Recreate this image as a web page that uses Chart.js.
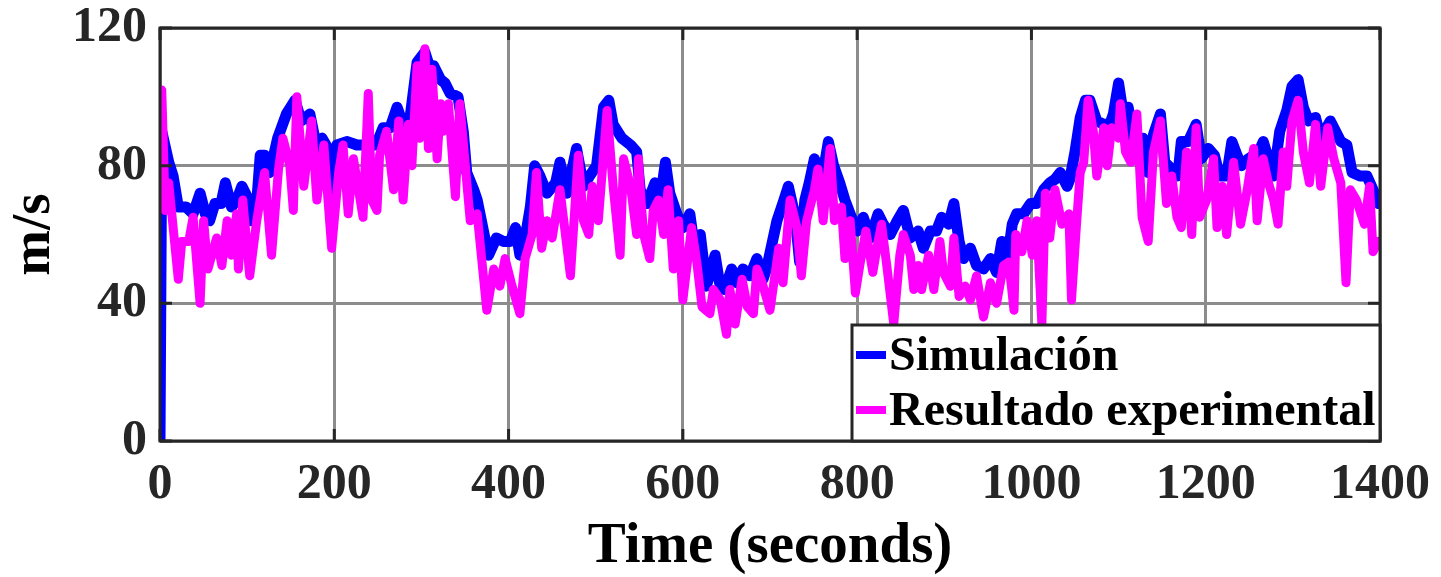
<!DOCTYPE html>
<html>
<head>
<meta charset="utf-8">
<script src="https://cdn.jsdelivr.net/npm/chart.js@4.4.0/dist/chart.umd.min.js"></script>
<style>
  html, body { margin: 0; padding: 0; background: #fff; }
  #wrap { width: 1441px; height: 577px; }
</style>
</head>
<body>
<div id="wrap"><canvas id="chart" width="1441" height="577"></canvas></div>
<script>
// Simulación (azul) - tiempos y velocidades
const simTime = [
  0, 2, 10, 15, 21, 30, 38, 46, 52, 57, 63, 70, 75, 82, 88, 94, 100, 105, 110, 115,
  120, 126, 135, 145, 155, 162, 172, 180, 186, 195, 199, 203, 215, 226, 235, 248, 256, 264, 272, 279,
  287, 295, 304, 309, 314, 322, 327, 333, 342, 348, 352, 360, 364, 372, 377, 386, 394, 402, 408, 413,
  421, 425, 430, 436, 444, 454, 459, 467, 478, 486, 493, 501, 509, 515, 520, 530, 540, 547, 551, 559,
  568, 574, 580, 585, 593, 600, 608, 614, 620, 627, 637, 642, 648, 656, 662, 669, 677, 685, 692, 696,
  708, 716, 721, 729, 734, 740, 745, 751, 759, 767, 773, 780, 786, 792, 800, 807, 815, 824, 830, 838,
  846, 853, 861, 870, 876, 884, 891, 897, 905, 911, 917, 922, 930, 937, 945, 953, 960, 966, 972, 978,
  983, 991, 999, 1006, 1014, 1021, 1027, 1033, 1041, 1044, 1050, 1056, 1062, 1067, 1075, 1083, 1090, 1094, 1100, 1106,
  1111, 1117, 1128, 1134, 1140, 1148, 1153, 1161, 1168, 1172, 1180, 1189, 1195, 1203, 1210, 1216, 1224, 1230, 1236, 1241,
  1249, 1255, 1261, 1266, 1272, 1278, 1285, 1293, 1299, 1306, 1312, 1318, 1326, 1332, 1343, 1349, 1355, 1362, 1368, 1377,
  1385, 1392, 1398
];
const simSpeed = [
  0, 90, 81, 77, 68, 68, 66, 72, 66, 64, 69, 69, 75, 68, 70, 74, 71, 64, 66, 83,
  83, 78, 88, 95, 99, 93, 95, 85, 88, 84, 72, 86, 87, 86, 86, 86, 91, 91, 97, 92,
  94, 110, 113, 109, 109, 105, 104, 101, 100, 90, 78, 73, 70, 60, 54, 59, 58, 58, 62, 54,
  62, 68, 80, 77, 72, 75, 81, 72, 85, 74, 77, 80, 97, 99, 92, 88, 86, 84, 73, 69,
  75, 70, 81, 72, 66, 62, 66, 55, 60, 45, 54, 46, 44, 50, 46, 50, 48, 53, 47, 50,
  64, 70, 74, 65, 52, 70, 75, 82, 75, 87, 80, 75, 70, 66, 61, 65, 59, 66, 63, 60,
  64, 67, 59, 61, 56, 61, 61, 65, 63, 69, 58, 53, 56, 51, 50, 53, 49, 58, 52, 63,
  66, 66, 69, 69, 73, 75, 76, 78, 74, 76, 84, 94, 99, 99, 93, 92, 92, 95, 104, 94,
  97, 88, 88, 78, 89, 95, 81, 79, 77, 87, 87, 92, 82, 85, 83, 77, 77, 87, 83, 80,
  82, 83, 84, 87, 82, 77, 90, 96, 103, 105, 97, 93, 94, 88, 93, 90, 87, 86, 78, 77,
  77, 73, 69
];

// Resultado experimental (magenta)
const expTime = [
  2, 6, 10, 21, 25, 33, 38, 46, 50, 55, 65, 71, 77, 82, 88, 90, 95, 103, 111, 120,
  128, 136, 141, 149, 153, 157, 165, 174, 180, 188, 197, 205, 210, 216, 222, 233, 239, 243, 249, 252,
  260, 268, 274, 279, 285, 289, 295, 298, 304, 308, 312, 318, 322, 325, 331, 339, 344, 356, 364, 375,
  383, 390, 396, 403, 413, 419, 427, 432, 438, 444, 450, 459, 471, 480, 486, 492, 496, 503, 513, 520,
  528, 532, 540, 547, 549, 552, 555, 562, 566, 572, 578, 583, 589, 595, 600, 610, 616, 622, 631, 635,
  643, 650, 654, 660, 668, 674, 681, 685, 691, 700, 710, 715, 723, 731, 736, 742, 751, 755, 761, 769,
  774, 782, 786, 792, 798, 803, 810, 818, 824, 828, 834, 842, 849, 853, 861, 865, 870, 874, 882, 888,
  895, 899, 907, 911, 917, 924, 930, 937, 945, 953, 960, 968, 974, 980, 982, 989, 995, 1001, 1006, 1012,
  1016, 1021, 1027, 1035, 1043, 1046, 1052, 1056, 1060, 1065, 1071, 1075, 1083, 1087, 1092, 1100, 1102, 1108, 1114, 1121,
  1127, 1134, 1140, 1148, 1155, 1161, 1167, 1172, 1178, 1184, 1189, 1193, 1201, 1209, 1213, 1219, 1224, 1232, 1240, 1247,
  1255, 1259, 1266, 1272, 1278, 1283, 1289, 1293, 1299, 1306, 1312, 1319, 1326, 1332, 1340, 1347, 1355, 1361, 1366, 1373,
  1382, 1388, 1392, 1398
];
const expSpeed = [
  102, 67, 75, 47, 58, 58, 65, 40, 64, 50, 59, 51, 64, 54, 66, 50, 70, 48, 64, 78,
  54, 79, 88, 80, 67, 100, 74, 93, 70, 86, 56, 78, 86, 66, 82, 65, 101, 70, 67, 83,
  90, 73, 93, 70, 92, 80, 109, 88, 114, 85, 108, 82, 98, 90, 98, 71, 98, 64, 66, 38,
  50, 45, 53, 46, 37, 53, 60, 78, 56, 64, 59, 73, 48, 83, 64, 60, 74, 64, 96, 74,
  54, 82, 74, 60, 82, 70, 60, 53, 67, 70, 60, 73, 50, 64, 41, 62, 52, 39, 37, 44,
  41, 31, 44, 34, 47, 39, 37, 50, 46, 38, 56, 46, 70, 62, 48, 64, 73, 79, 64, 85,
  64, 68, 53, 64, 43, 51, 61, 49, 58, 63, 51, 34, 54, 60, 54, 44, 51, 44, 54, 44,
  58, 49, 45, 59, 42, 45, 41, 48, 36, 46, 40, 51, 52, 38, 60, 55, 64, 54, 64, 34,
  72, 59, 73, 63, 66, 41, 64, 78, 81, 99, 90, 77, 91, 80, 91, 88, 98, 84, 81, 95,
  65, 58, 84, 93, 69, 77, 65, 62, 84, 60, 91, 65, 70, 82, 62, 74, 60, 81, 63, 72,
  85, 64, 82, 75, 70, 63, 84, 74, 93, 99, 84, 75, 92, 74, 91, 82, 75, 46, 73, 70,
  63, 74, 55, 58
];

// Etiquetas de los ejes
const xTicks = [0, 200, 400, 600, 800, 1000, 1200, 1400];
const yTicks = [0, 40, 80, 120];

const FONT = '"Liberation Serif", "Times New Roman", serif';
const AXIS_COLOR = '#262626';

// Marco, marcas interiores y leyenda al estilo MATLAB
const framePlugin = {
  id: 'frame',
  afterDraw(chart) {
    const ctx = chart.ctx;
    const a = chart.chartArea;
    const xs = chart.scales.x;
    const ys = chart.scales.y;
    const tl = 12;
    ctx.save();
    ctx.strokeStyle = AXIS_COLOR;
    ctx.lineWidth = 3;
    ctx.beginPath();
    xTicks.forEach(v => {
      const px = xs.getPixelForValue(v);
      ctx.moveTo(px, a.bottom); ctx.lineTo(px, a.bottom - tl);
      ctx.moveTo(px, a.top); ctx.lineTo(px, a.top + tl);
    });
    yTicks.forEach(v => {
      const py = ys.getPixelForValue(v);
      ctx.moveTo(a.left, py); ctx.lineTo(a.left + tl, py);
      ctx.moveTo(a.right, py); ctx.lineTo(a.right - tl, py);
    });
    ctx.stroke();
    ctx.strokeRect(a.left, a.top, a.right - a.left, a.bottom - a.top);

    // leyenda
    const bx = 852, by = 325, bw = a.right - bx, bh = a.bottom - by;
    ctx.fillStyle = '#fff';
    ctx.fillRect(bx, by, bw, bh);
    ctx.strokeRect(bx, by, bw, bh);
    const rows = [355, 410];
    chart.data.datasets.forEach((ds, i) => {
      ctx.strokeStyle = ds.borderColor;
      ctx.lineWidth = 8;
      ctx.beginPath();
      ctx.moveTo(856, rows[i]);
      ctx.lineTo(886, rows[i]);
      ctx.stroke();
      ctx.fillStyle = '#000';
      ctx.font = 'bold 48px ' + FONT;
      ctx.textBaseline = 'alphabetic';
      ctx.textAlign = 'left';
      ctx.fillText(ds.label, 889, rows[i] + 15);
    });
    ctx.restore();
  }
};

const ctx = document.getElementById('chart').getContext('2d');
const chart = new Chart(ctx, {
  type: 'line',
  data: {
    datasets: [
      {
        label: 'Simulación',
        data: simTime.map((t, i) => ({ x: t, y: simSpeed[i] })),
        borderColor: '#0000ff',
        borderWidth: 11,
        pointRadius: 0,
        tension: 0,
        borderJoinStyle: 'round',
        borderCapStyle: 'round',
        order: 1
      },
      {
        label: 'Resultado experimental',
        data: expTime.map((t, i) => ({ x: t, y: expSpeed[i] })),
        borderColor: '#ff00ff',
        borderWidth: 9,
        pointRadius: 0,
        tension: 0,
        borderJoinStyle: 'round',
        borderCapStyle: 'round',
        order: 0
      }
    ]
  },
  options: {
    responsive: false,
    animation: false,
    layout: { padding: { top: 28, right: 61, left: 0, bottom: 0 } },
    plugins: {
      legend: { display: false },
      tooltip: { enabled: false }
    },
    scales: {
      x: {
        type: 'linear',
        min: 0,
        max: 1400,
        afterBuildTicks: s => { s.ticks = xTicks.map(v => ({ value: v })); },
        afterFit: s => {
          s.height = 136;
          s.paddingLeft = 0;
          s.paddingRight = 0;
        },
        grid: { color: '#8c8c8c', lineWidth: 3, drawTicks: false },
        border: { display: false },
        ticks: {
          padding: 14,
          color: AXIS_COLOR,
          font: { family: FONT, size: 50, weight: 'bold', lineHeight: 1.2 },
          maxRotation: 0,
          callback: v => String(v)
        },
        title: {
          display: true,
          text: 'Time (seconds)',
          color: '#000',
          font: { family: FONT, size: 57, weight: 'bold', lineHeight: 1 },
          padding: { top: 0, bottom: 1 }
        }
      },
      y: {
        min: 0,
        max: 120,
        afterBuildTicks: s => { s.ticks = yTicks.map(v => ({ value: v })); },
        afterFit: s => {
          s.width = 160;
          s.paddingTop = 0;
          s.paddingBottom = 0;
        },
        grid: { color: '#8c8c8c', lineWidth: 3, drawTicks: false },
        border: { display: false },
        ticks: {
          padding: 13,
          color: AXIS_COLOR,
          font: { family: FONT, size: 50, weight: 'bold', lineHeight: 1.2 },
          callback: v => String(v)
        },
        title: {
          display: true,
          text: 'm/s',
          color: '#000',
          font: { family: FONT, size: 55, weight: 'bold', lineHeight: 1 },
          padding: { top: 7, bottom: 0 }
        }
      }
    }
  },
  plugins: [framePlugin]
});
</script>
</body>
</html>
